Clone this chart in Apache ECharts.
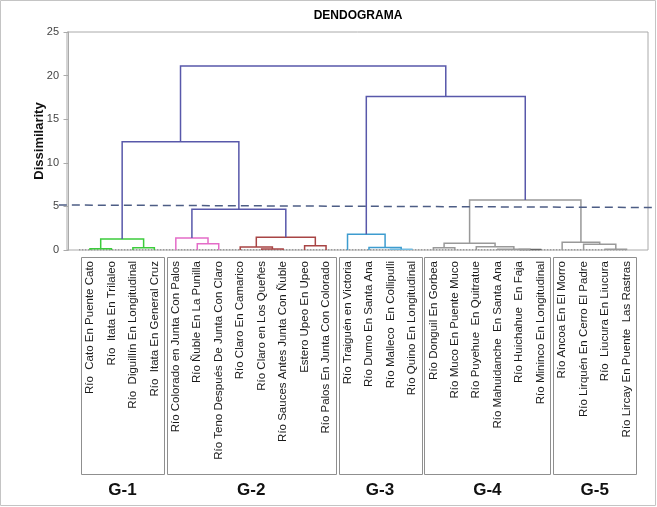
<!DOCTYPE html>
<html><head><meta charset="utf-8">
<script src="https://cdn.jsdelivr.net/npm/echarts@6/dist/echarts.min.js"></script>
<style>html,body{margin:0;padding:0;background:#fff}#c{width:657px;height:507px}</style>
</head><body><div id="c"></div>
<script>
// ---- data ----
const leaves = [
 'Río  Cato En Puente Cato','Río  Itata En Trilaleo','Río  Diguillín En Longitudinal','Río  Itata En General Cruz',
 'Río Colorado en Junta Con Palos','Río Ñuble En La Punilla','Río Teno Después De Junta Con Claro','Río Claro En Camarico',
 'Río Claro en Los Queñes','Río Sauces Antes Junta Con Ñuble','Estero Upeo En Upeo','Río Palos En Junta Con Colorado',
 'Río Traiguén en Victoria','Río Dumo En Santa Ana','Río Malleco  En Collipulli','Río Quino En Longitudinal',
 'Río Donguil En Gorbea','Río Muco En Puente Muco','Río Puyehue  En Quitratue','Río Mahuidanche  En Santa Ana',
 'Río Huichahue  En Faja','Río Mininco En Longitudinal',
 'Río Ancoa En El Morro','Río Lirquén En Cerro El Padre','Río  Liucura En Liucura','Río Lircay En Puente  Las Rastras'
];
// merges: [nodeA, nodeB, dissimilarity]; new node ids start at 26
const merges = [
 [0,1,0.15],[2,3,0.25],[26,27,1.26],
 [5,6,0.72],[4,29,1.38],[8,9,0.12],[7,31,0.34],[10,11,0.5],[32,33,1.45],[30,34,4.67],
 [14,15,0.1],[13,36,0.3],[12,37,1.8],
 [16,17,0.27],[20,21,0.06],[19,40,0.1],[18,41,0.38],[39,42,0.77],
 [24,25,0.08],[23,44,0.65],[22,45,0.88],[43,46,5.73],
 [28,35,12.4],[38,47,17.6],[48,49,21.1]
];
const linkGroup = ['g','g','g','p','p','b','b','b','b','u','l','c','c','k','d','k','k','k','k','k','k','k','u','u','u'];
const groups = ['G-1','G-2','G-3','G-4','G-5'];
const groupSizes = [4,8,4,6,4];
const cutLine = [[-0.45,5.16],[27.35,4.87]];
const yTicks = [0,5,10,15,20,25];

// ---- styles ----
const palette = {g:'#3ccc3c',p:'#e46cc8',b:'#a84444',u:'#5858aa',l:'#74bce0',c:'#3d9ccf',k:'#999999',d:'#666666'};
const FONT = 'Liberation Sans, Arial, sans-serif';

// build dendrogram geometry from merges
const nodeX = leaves.map((_, i) => i + 1), nodeY = leaves.map(() => 0);
const linkData = merges.map(([a, b, h]) => {
  const row = [nodeX[a], nodeY[a], nodeX[b], nodeY[b], h];
  nodeX.push((nodeX[a] + nodeX[b]) / 2); nodeY.push(h);
  return row;
});
const groupData = []; let cum = 0;
groupSizes.forEach(s => { groupData.push([cum + 1, cum + s]); cum += s; });

const chart = echarts.init(document.getElementById('c'), null, {renderer:'canvas'});
chart.setOption({
  animation:false,
  backgroundColor:'#fff',
  grid:{left:67,right:9,top:32,bottom:257,show:true,borderColor:'#aaaaaa',borderWidth:1},
  xAxis:{type:'value',min:-0.07,max:27,show:false},
  yAxis:{type:'value',min:yTicks[0],max:yTicks[yTicks.length-1],interval:5,
    name:'Dissimilarity',nameLocation:'middle',nameGap:21,nameMoveOverlap:false,
    nameTextStyle:{fontFamily:FONT,fontWeight:'bold',fontSize:13,color:'#111'},
    axisLine:{show:true,lineStyle:{color:'#aaa'}},axisTick:{show:true,length:5,lineStyle:{color:'#aaa'}},
    axisLabel:{fontFamily:FONT,fontSize:11,color:'#444',margin:8},splitLine:{show:false}},
  graphic:[
    {type:'rect',shape:{x:0.5,y:0.5,width:655,height:505},style:{fill:'none',stroke:'#c4c4c4',lineWidth:1},z:-1},
    {type:'text',x:358,y:16,style:{text:'DENDOGRAMA',font:'bold 12px '+FONT,fill:'#000',textAlign:'center',textVerticalAlign:'middle'}}
  ],
  series:[
    {type:'line',data:[[0.5,0],[leaves.length,0]],symbol:'none',silent:true,
      lineStyle:{color:'#444',width:1,type:[1,2]},z:3},
    {type:'custom',data:linkData,z:4,
      renderItem:(params, api) => {
        const xa=api.value(0), ya=api.value(1), xb=api.value(2), yb=api.value(3), h=api.value(4);
        return {type:'polyline',shape:{points:[api.coord([xa,ya]),api.coord([xa,h]),api.coord([xb,h]),api.coord([xb,yb])]},
          style:{stroke:palette[linkGroup[params.dataIndex]],lineWidth:1.5,fill:null}};
      }},
    {type:'custom',data:[[cutLine[0][0],cutLine[0][1],cutLine[1][0],cutLine[1][1]]],z:5,clip:false,
      renderItem:(params, api) => {
        const a = api.coord([api.value(0), api.value(1)]), b = api.coord([api.value(2), api.value(3)]);
        return {type:'line',shape:{x1:a[0],y1:a[1],x2:b[0],y2:b[1]},
          style:{stroke:'#4d5d85',lineWidth:1.5,lineDash:[8,5]}};
      }},
    {type:'custom',data:leaves.map((_, i) => [i + 1, 0]),z:6,
      renderItem:(params, api) => {
        const p = api.coord([api.value(0), 0]);
        return {type:'text',x:p[0],y:p[1]+11,rotation:Math.PI/2,
          style:{text:leaves[params.dataIndex],font:'11.5px '+FONT,fill:'#1a1a1a',textAlign:'right',textVerticalAlign:'middle'}};
      }},
    {type:'custom',data:groupData,z:6,
      renderItem:(params, api) => {
        const a = api.coord([api.value(0) - 0.42, 0]), b = api.coord([api.value(1) + 0.45, 0]);
        return {type:'group',children:[
          {type:'rect',shape:{x:Math.round(a[0])+0.5,y:Math.round(a[1])+7.5,width:Math.round(b[0]-a[0]),height:217},
            style:{fill:'none',stroke:'#8f8f8f',lineWidth:1}},
          {type:'text',x:(a[0]+b[0])/2,y:a[1]+240,
            style:{text:groups[params.dataIndex],font:'bold 17px '+FONT,fill:'#111',textAlign:'center',textVerticalAlign:'middle'}}
        ]};
      }}
  ]
});
</script></body></html>
